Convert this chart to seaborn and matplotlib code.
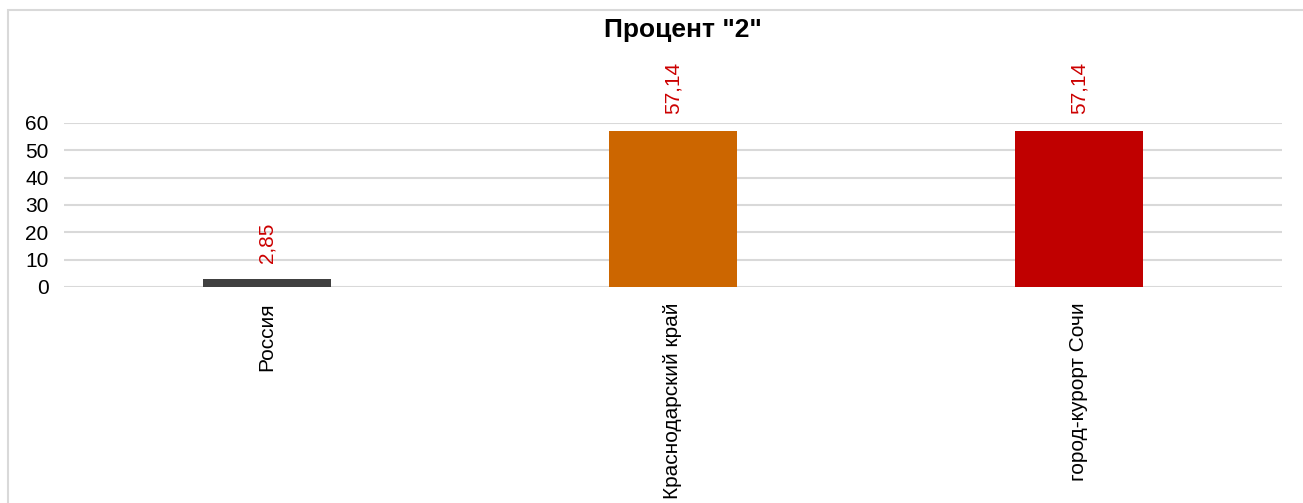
import matplotlib
matplotlib.use("Agg")
import matplotlib.pyplot as plt
import seaborn as sns
import pandas as pd
from matplotlib.patches import Rectangle

# данные
regions = ["Россия", "Краснодарский край", "город-курорт Сочи"]
values = [2.85, 57.14, 57.14]
bar_colors = ["#404040", "#CC6600", "#C00000"]
value_labels = ["2,85", "57,14", "57,14"]
yticks = [0, 10, 20, 30, 40, 50, 60]

df = pd.DataFrame({"region": regions, "value": values})

sns.set_theme(style="white")
plt.rcParams["font.family"] = ["Liberation Sans", "DejaVu Sans"]
plt.rcParams["text.color"] = "black"
plt.rcParams["xtick.color"] = "black"
plt.rcParams["ytick.color"] = "black"

fig = plt.figure(figsize=(13.03, 5.03), dpi=100)
ax = fig.add_axes([64 / 1303, 1 - 287 / 503, 1218 / 1303, 164 / 503])

sns.barplot(data=df, x="region", y="value", hue="region", palette=bar_colors,
            width=0.315, legend=False, ax=ax, saturation=1, linewidth=0)

ax.set_xlim(-0.5, 2.5)
ax.set_ylim(0, 60)
ax.set_yticks(yticks)
ax.set_yticklabels([str(t) for t in yticks], fontsize=15)
ax.yaxis.grid(True, color="#d9d9d9", linewidth=1.5)
ax.set_axisbelow(True)
ax.tick_params(axis="y", length=0, pad=11)
ax.tick_params(axis="x", length=0, pad=11)
for lbl in ax.get_xticklabels():
    lbl.set_rotation(90)
    lbl.set_fontsize(15)
    lbl.set_va("top")
    lbl.set_ha("center")
ax.set_xlabel("")
ax.set_ylabel("")
for s in ax.spines.values():
    s.set_visible(False)

# подписи значений
for i, (v, t) in enumerate(zip(values, value_labels)):
    ax.annotate(t, xy=(i, v), xytext=(0, 12), textcoords="offset points",
                rotation=90, ha="center", va="bottom", fontsize=15,
                color="#CC0000", annotation_clip=False)

fig.text(683 / 1303, 1 - 30 / 503, 'Процент "2"', ha="center", va="center",
         fontsize=19, fontweight="bold", color="black")

# рамка
fig.patches.append(Rectangle((8 / 1303, -0.1), 1.2, 1 - 10 / 503 + 0.1,
                             transform=fig.transFigure, fill=False,
                             edgecolor="#d9d9d9", linewidth=1.5))

fig.savefig("out.png", dpi=100)
